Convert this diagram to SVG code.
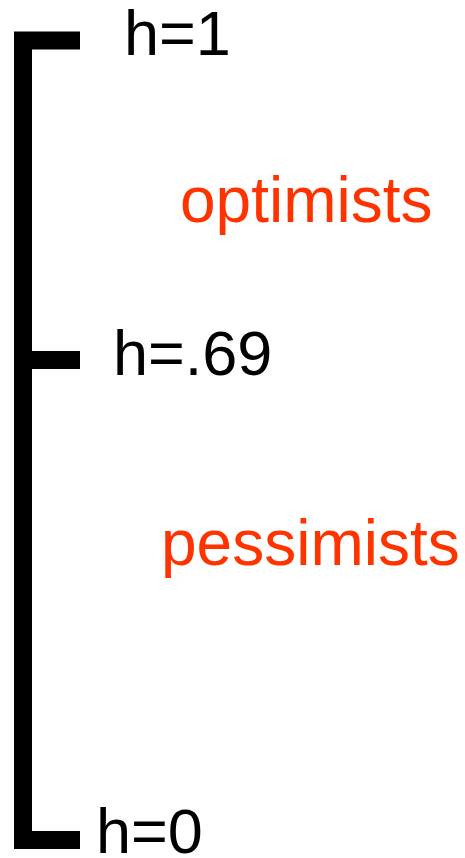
<svg xmlns="http://www.w3.org/2000/svg" width="465" height="858" viewBox="0 0 465 858">
<style>
.lbl{font-family:"Liberation Sans",Arial,sans-serif;font-size:63px;fill:#000}
.grp{font-family:"Liberation Sans",Arial,sans-serif;font-size:64px;fill:#ff3300}
.bar{fill:none;stroke:#000;stroke-width:18;stroke-linejoin:miter}
</style>
<g id="connectors">
<path class="bar" d="M80,40.5 H23 V840 H80"/>
<path class="bar" d="M23,360 H80"/>
</g>
<g id="h1"><text class="lbl" x="124" y="55">h=1</text></g>
<g id="h069"><text class="lbl" x="113" y="375">h=.69</text></g>
<g id="h0"><text class="lbl" x="96" y="853">h=0</text></g>
<g id="optimists"><text class="grp" x="180" y="222">optimists</text></g>
<g id="pessimists"><text class="grp" x="161" y="565">pessimists</text></g>
</svg>
